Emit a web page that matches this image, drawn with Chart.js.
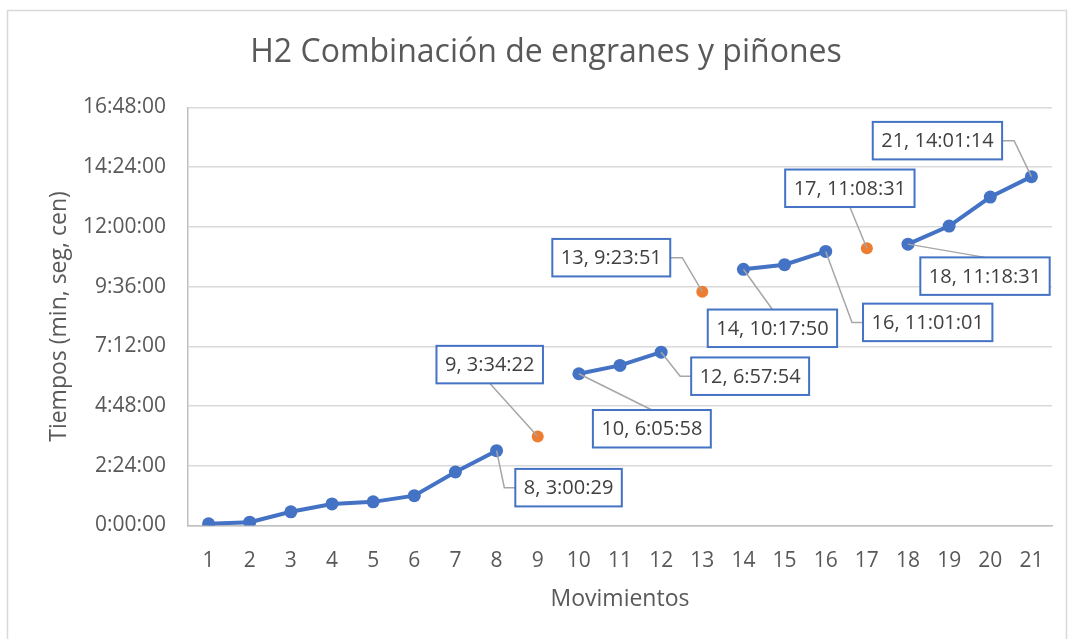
<!DOCTYPE html>
<html>
<head>
<meta charset="utf-8">
<script src="https://cdn.jsdelivr.net/npm/chart.js@4/dist/chart.umd.min.js"></script>
<style>
html,body{margin:0;padding:0;background:#fff;}
#wrap{width:1069px;height:639px;position:relative;}
canvas{display:block;}
</style>
</head>
<body>
<div id="wrap"><canvas id="c" width="1069" height="639"></canvas></div>
<script>
// ---- data ----
const chartTitle = 'H2 Combinación de engranes y piñones';
const xTitle = 'Movimientos';
const yTitle = 'Tiempos (min, seg, cen)';
const categories = ['1','2','3','4','5','6','7','8','9','10','11','12','13','14','15','16','17','18','19','20','21'];
const blueTimes = ['0:04:00','0:08:00','0:33:00','0:52:00','0:57:00','1:12:00','2:09:00','3:00:29', null,
                   '6:05:58','6:26:00','6:57:54', null,
                   '10:17:50','10:29:00','11:01:01', null,
                   '11:18:31','12:02:00','13:12:00','14:01:14'];
const orangeTimes = [null,null,null,null,null,null,null,null,'3:34:22',
                     null,null,null,'9:23:51',
                     null,null,null,'11:08:31',
                     null,null,null,null];
const yTickLabels = ['0:00:00','2:24:00','4:48:00','7:12:00','9:36:00','12:00:00','14:24:00','16:48:00'];
const labelledCats = ['8','9','10','12','13','14','16','17','18','21'];

// ---- layout of the data labels (offset of box centre from its point, leader style) ----
const labelLayout = {
  '8':  {dx: 72,  dy: 37,  lead: 'left'},
  '9':  {dx: -48, dy: -72, lead: 'bottom'},
  '10': {dx: 73,  dy: 55,  lead: 'top'},
  '12': {dx: 89,  dy: 24,  lead: 'left'},
  '13': {dx: -91, dy: -34, lead: 'right'},
  '14': {dx: 29,  dy: 59,  lead: 'top'},
  '16': {dx: 102, dy: 71,  lead: 'left'},
  '17': {dx: -17, dy: -60, lead: 'bottom'},
  '18': {dx: 77,  dy: 32,  lead: 'top'},
  '21': {dx: -94, dy: -36, lead: 'right'}
};

const toSec = t => {
  if (t == null) return null;
  const p = t.split(':').map(Number);
  return p[0]*3600 + p[1]*60 + p[2];
};
const fmt = s => {
  s = Math.round(s);
  const h = Math.floor(s/3600), m = Math.floor((s%3600)/60), ss = s%60;
  return h + ':' + String(m).padStart(2,'0') + ':' + String(ss).padStart(2,'0');
};

const BLUE = '#4472C4', ORANGE = '#ED7D31', TXT = '#595959';
const FONT = '"Open Sans", "DejaVu Sans", sans-serif';
const yTickSecs = yTickLabels.map(toSec);

const framePlugin = {
  id: 'frame',
  beforeDraw(chart) {
    const ctx = chart.ctx;
    ctx.save();
    ctx.fillStyle = '#fff';
    ctx.fillRect(0, 0, chart.width, chart.height);
    ctx.strokeStyle = '#D9D9D9';
    ctx.lineWidth = 1.5;
    ctx.beginPath();
    ctx.moveTo(7.5, chart.height + 5);
    ctx.lineTo(7.5, 10.5);
    ctx.lineTo(1066.5, 10.5);
    ctx.lineTo(1066.5, chart.height + 5);
    ctx.stroke();
    ctx.fillStyle = TXT;
    ctx.font = '32px ' + FONT;
    ctx.textAlign = 'center';
    ctx.textBaseline = 'alphabetic';
    ctx.fillText(chartTitle, 546, 61.5);
    ctx.restore();
  }
};

const labelPlugin = {
  id: 'dlabels',
  afterDatasetsDraw(chart) {
    const ctx = chart.ctx, xs = chart.scales.x, ys = chart.scales.y;
    ctx.save();
    ctx.font = '20px ' + FONT;
    labelledCats.forEach(cat => {
      const i = categories.indexOf(cat);
      const t = blueTimes[i] != null ? blueTimes[i] : orangeTimes[i];
      const px = xs.getPixelForValue(i), py = ys.getPixelForValue(toSec(t));
      const L = labelLayout[cat];
      const text = cat + ', ' + t;
      const w = ctx.measureText(text).width + 17, h = 37.5;
      const cx = px + L.dx, cy = py + L.dy;
      const l = cx - w/2, r = cx + w/2, tp = cy - h/2, b = cy + h/2;
      ctx.strokeStyle = '#A6A6A6';
      ctx.lineWidth = 1.5;
      ctx.beginPath();
      if (L.lead === 'left') { ctx.moveTo(l, cy); ctx.lineTo(l - 11, cy); ctx.lineTo(px, py); }
      else if (L.lead === 'right') { ctx.moveTo(r, cy); ctx.lineTo(r + 12, cy); ctx.lineTo(px, py); }
      else if (L.lead === 'top') { ctx.moveTo(cx, tp); ctx.lineTo(px, py); }
      else { ctx.moveTo(cx, b); ctx.lineTo(px, py); }
      ctx.stroke();
      ctx.fillStyle = '#fff';
      ctx.fillRect(l, tp, w, h);
      ctx.strokeStyle = BLUE;
      ctx.lineWidth = 2;
      ctx.strokeRect(l, tp, w, h);
      ctx.fillStyle = '#404040';
      ctx.textAlign = 'center';
      ctx.textBaseline = 'middle';
      ctx.fillText(text, cx, cy + 1);
    });
    ctx.restore();
  }
};

function draw() {
  new Chart(document.getElementById('c').getContext('2d'), {
    type: 'line',
    data: {
      labels: categories,
      datasets: [
        {
          label: 'Tiempos',
          data: blueTimes.map(toSec),
          borderColor: BLUE,
          backgroundColor: BLUE,
          borderWidth: 4,
          pointRadius: 6.5,
          pointBackgroundColor: BLUE,
          pointBorderWidth: 0,
          spanGaps: false,
          tension: 0
        },
        {
          label: 'Repetición',
          data: orangeTimes.map(toSec),
          showLine: false,
          borderColor: ORANGE,
          backgroundColor: ORANGE,
          pointRadius: 6,
          pointBackgroundColor: ORANGE,
          pointBorderWidth: 0
        }
      ]
    },
    options: {
      responsive: false,
      animation: false,
      devicePixelRatio: 1,
      layout: { padding: { top: 107.5, right: 17, bottom: 0, left: 0 } },
      plugins: { legend: { display: false }, title: { display: false }, tooltip: { enabled: false } },
      scales: {
        x: {
          offset: true,
          grid: { display: false, drawTicks: false },
          border: { display: true, color: '#BFBFBF', width: 1.5 },
          ticks: { color: TXT, font: { family: FONT, size: 21 }, padding: 23, maxRotation: 0, autoSkip: false },
          title: { display: true, text: xTitle, color: TXT, font: { family: FONT, size: 23 }, padding: { top: 0, bottom: 26 } },
          afterFit(s) { s.height = 639 - 525.5; }
        },
        y: {
          min: yTickSecs[0],
          max: yTickSecs[yTickSecs.length - 1],
          afterBuildTicks(s) { s.ticks = yTickSecs.map(v => ({ value: v })); },
          grid: { color: '#D9D9D9', lineWidth: 1.5, drawTicks: false },
          border: { display: true, color: '#BFBFBF', width: 1.5 },
          ticks: { color: TXT, font: { family: FONT, size: 21 }, padding: 22, callback: v => fmt(v) },
          title: { display: true, text: yTitle, color: TXT, font: { family: FONT, size: 23 }, padding: { top: 46, bottom: 0 } },
          afterFit(s) { s.width = 188; }
        }
      }
    },
    plugins: [framePlugin, labelPlugin]
  });
}

const fontsReady = document.fonts && document.fonts.load
  ? Promise.all([document.fonts.load('20px "Open Sans"'), document.fonts.load('32px "Open Sans"')]).catch(() => {})
  : Promise.resolve();
fontsReady.then(draw);
</script>
</body>
</html>
